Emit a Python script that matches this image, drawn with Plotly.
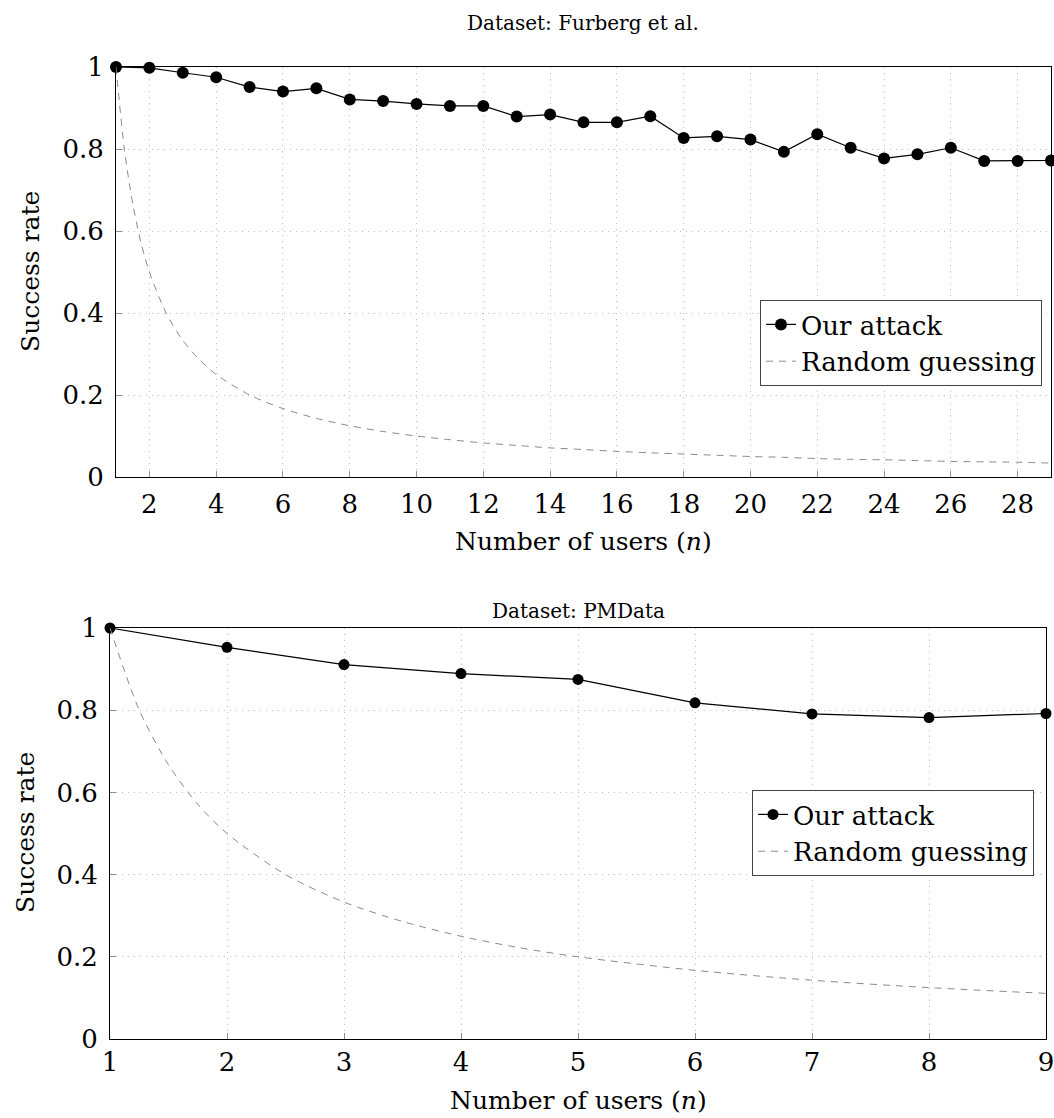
import plotly.graph_objects as go

# Furberg et al. dataset
furberg_n = list(range(1, 30))
furberg_attack = [1.000, 0.998, 0.986, 0.975, 0.951, 0.940, 0.948, 0.921, 0.917, 0.910,
                  0.905, 0.905, 0.879, 0.884, 0.865, 0.865, 0.880, 0.827, 0.831, 0.823,
                  0.793, 0.836, 0.803, 0.777, 0.787, 0.803, 0.771, 0.771, 0.772]
furberg_rand_n = [1, 1.25, 1.5, 1.75, 2, 2.5, 3, 3.5, 4, 5, 6, 7, 8, 9, 10, 11, 12, 13, 14, 15,
                  16, 17, 18, 19, 20, 21, 22, 23, 24, 25, 26, 27, 28, 29]
furberg_rand = [1.000, 0.800, 0.667, 0.571, 0.500, 0.400, 0.333, 0.286, 0.250, 0.200, 0.167,
                0.143, 0.125, 0.111, 0.100, 0.091, 0.083, 0.077, 0.071, 0.067, 0.0625, 0.059,
                0.056, 0.053, 0.050, 0.048, 0.045, 0.043, 0.042, 0.040, 0.038, 0.037, 0.036,
                0.034]

# PMData dataset
pm_n = list(range(1, 10))
pm_attack = [1.000, 0.953, 0.911, 0.889, 0.875, 0.818, 0.791, 0.782, 0.792]
pm_rand_n = [1, 1.25, 1.5, 1.75, 2, 2.5, 3, 3.5, 4, 4.5, 5, 6, 7, 8, 9]
pm_rand = [1.000, 0.800, 0.667, 0.571, 0.500, 0.400, 0.333, 0.286, 0.250, 0.222, 0.200,
           0.167, 0.143, 0.125, 0.111]

y_ticks = [0, 0.2, 0.4, 0.6, 0.8, 1]
y_ticklabels = ["0", "0.2", "0.4", "0.6", "0.8", "1"]
top_x_ticks = list(range(2, 29, 2))
bottom_x_ticks = list(range(1, 10))

FONT = "DejaVu Serif"
W, H = 1054, 1118
TICK_SIZE = 26
LABEL_SIZE = 25
LEGEND_SIZE = 26
TITLE_SIZE = 20

fig = go.Figure()

fig.add_trace(go.Scatter(
    x=furberg_n, y=furberg_attack, mode="lines+markers", name="Our attack",
    line=dict(color="black", width=1.2), marker=dict(color="black", size=12),
    xaxis="x", yaxis="y", legend="legend", cliponaxis=False))
fig.add_trace(go.Scatter(
    x=furberg_rand_n, y=furberg_rand, mode="lines", name="Random guessing",
    line=dict(color="#8a8a8a", width=1, dash="7px,6px", shape="spline", smoothing=0.8),
    xaxis="x", yaxis="y", legend="legend"))

fig.add_trace(go.Scatter(
    x=pm_n, y=pm_attack, mode="lines+markers", name="Our attack",
    line=dict(color="black", width=1.2), marker=dict(color="black", size=11),
    xaxis="x2", yaxis="y2", legend="legend2", cliponaxis=False))
fig.add_trace(go.Scatter(
    x=pm_rand_n, y=pm_rand, mode="lines", name="Random guessing",
    line=dict(color="#8a8a8a", width=1, dash="7px,6px", shape="spline", smoothing=0.8),
    xaxis="x2", yaxis="y2", legend="legend2"))

axis_common = dict(
    showline=True, linecolor="black", linewidth=1, mirror=True,
    showgrid=True, gridcolor="#bdbdbd", griddash="1px,5px", gridwidth=1,
    ticks="inside", ticklen=6, tickcolor="#8f8f8f", tickwidth=1,
    zeroline=False, automargin=False, ticklabeloverflow="allow",
    tickfont=dict(family=FONT, size=TICK_SIZE, color="black"),
)

top_dom = [(H - 477) / H, (H - 67) / H]
bot_dom = [(H - 1039) / H, (H - 628) / H]


def paper_text(text, x, y, size, angle=0):
    return dict(text=text, x=x / W, y=(H - y) / H, xref="paper", yref="paper",
                showarrow=False, xanchor="center", yanchor="middle", textangle=angle,
                font=dict(family=FONT, size=size, color="black"))


fig.update_layout(
    width=W, height=H,
    margin=dict(l=0, r=0, t=0, b=0),
    paper_bgcolor="white", plot_bgcolor="white",
    font=dict(family=FONT, color="black"),
    xaxis=dict(axis_common, domain=[116 / W, 1051 / W], range=[1, 29],
               tickvals=top_x_ticks, anchor="y", ticklabelstandoff=4),
    yaxis=dict(axis_common, domain=top_dom, range=[0, 1], tickvals=y_ticks,
               ticktext=y_ticklabels, anchor="x", ticklabelstandoff=6),
    xaxis2=dict(axis_common, domain=[110 / W, 1046 / W], range=[1, 9],
                tickvals=bottom_x_ticks, anchor="y2", ticklabelstandoff=0),
    yaxis2=dict(axis_common, domain=bot_dom, range=[0, 1], tickvals=y_ticks,
                ticktext=y_ticklabels, anchor="x2", ticklabelstandoff=6),
    legend=dict(x=1042 / W, y=(H - 300) / H, xanchor="right", yanchor="top",
                bordercolor="#444", borderwidth=1, bgcolor="white",
                font=dict(family=FONT, size=LEGEND_SIZE), tracegroupgap=0,
                itemwidth=30),
    legend2=dict(x=1034 / W, y=(H - 790) / H, xanchor="right", yanchor="top",
                 bordercolor="#444", borderwidth=1, bgcolor="white",
                 font=dict(family=FONT, size=LEGEND_SIZE), tracegroupgap=0,
                 itemwidth=30),
    annotations=[
        paper_text("Dataset: Furberg et al.", 583, 23, TITLE_SIZE),
        paper_text("Dataset: PMData", 578, 611, TITLE_SIZE),
        paper_text("Number of users (<i>n</i>)", 583, 541, LABEL_SIZE),
        paper_text("Number of users (<i>n</i>)", 578, 1100, LABEL_SIZE),
        paper_text("Success rate", 30, 272, LABEL_SIZE, -90),
        paper_text("Success rate", 26, 833, LABEL_SIZE, -90),
    ],
)

fig.write_html("out.html")
